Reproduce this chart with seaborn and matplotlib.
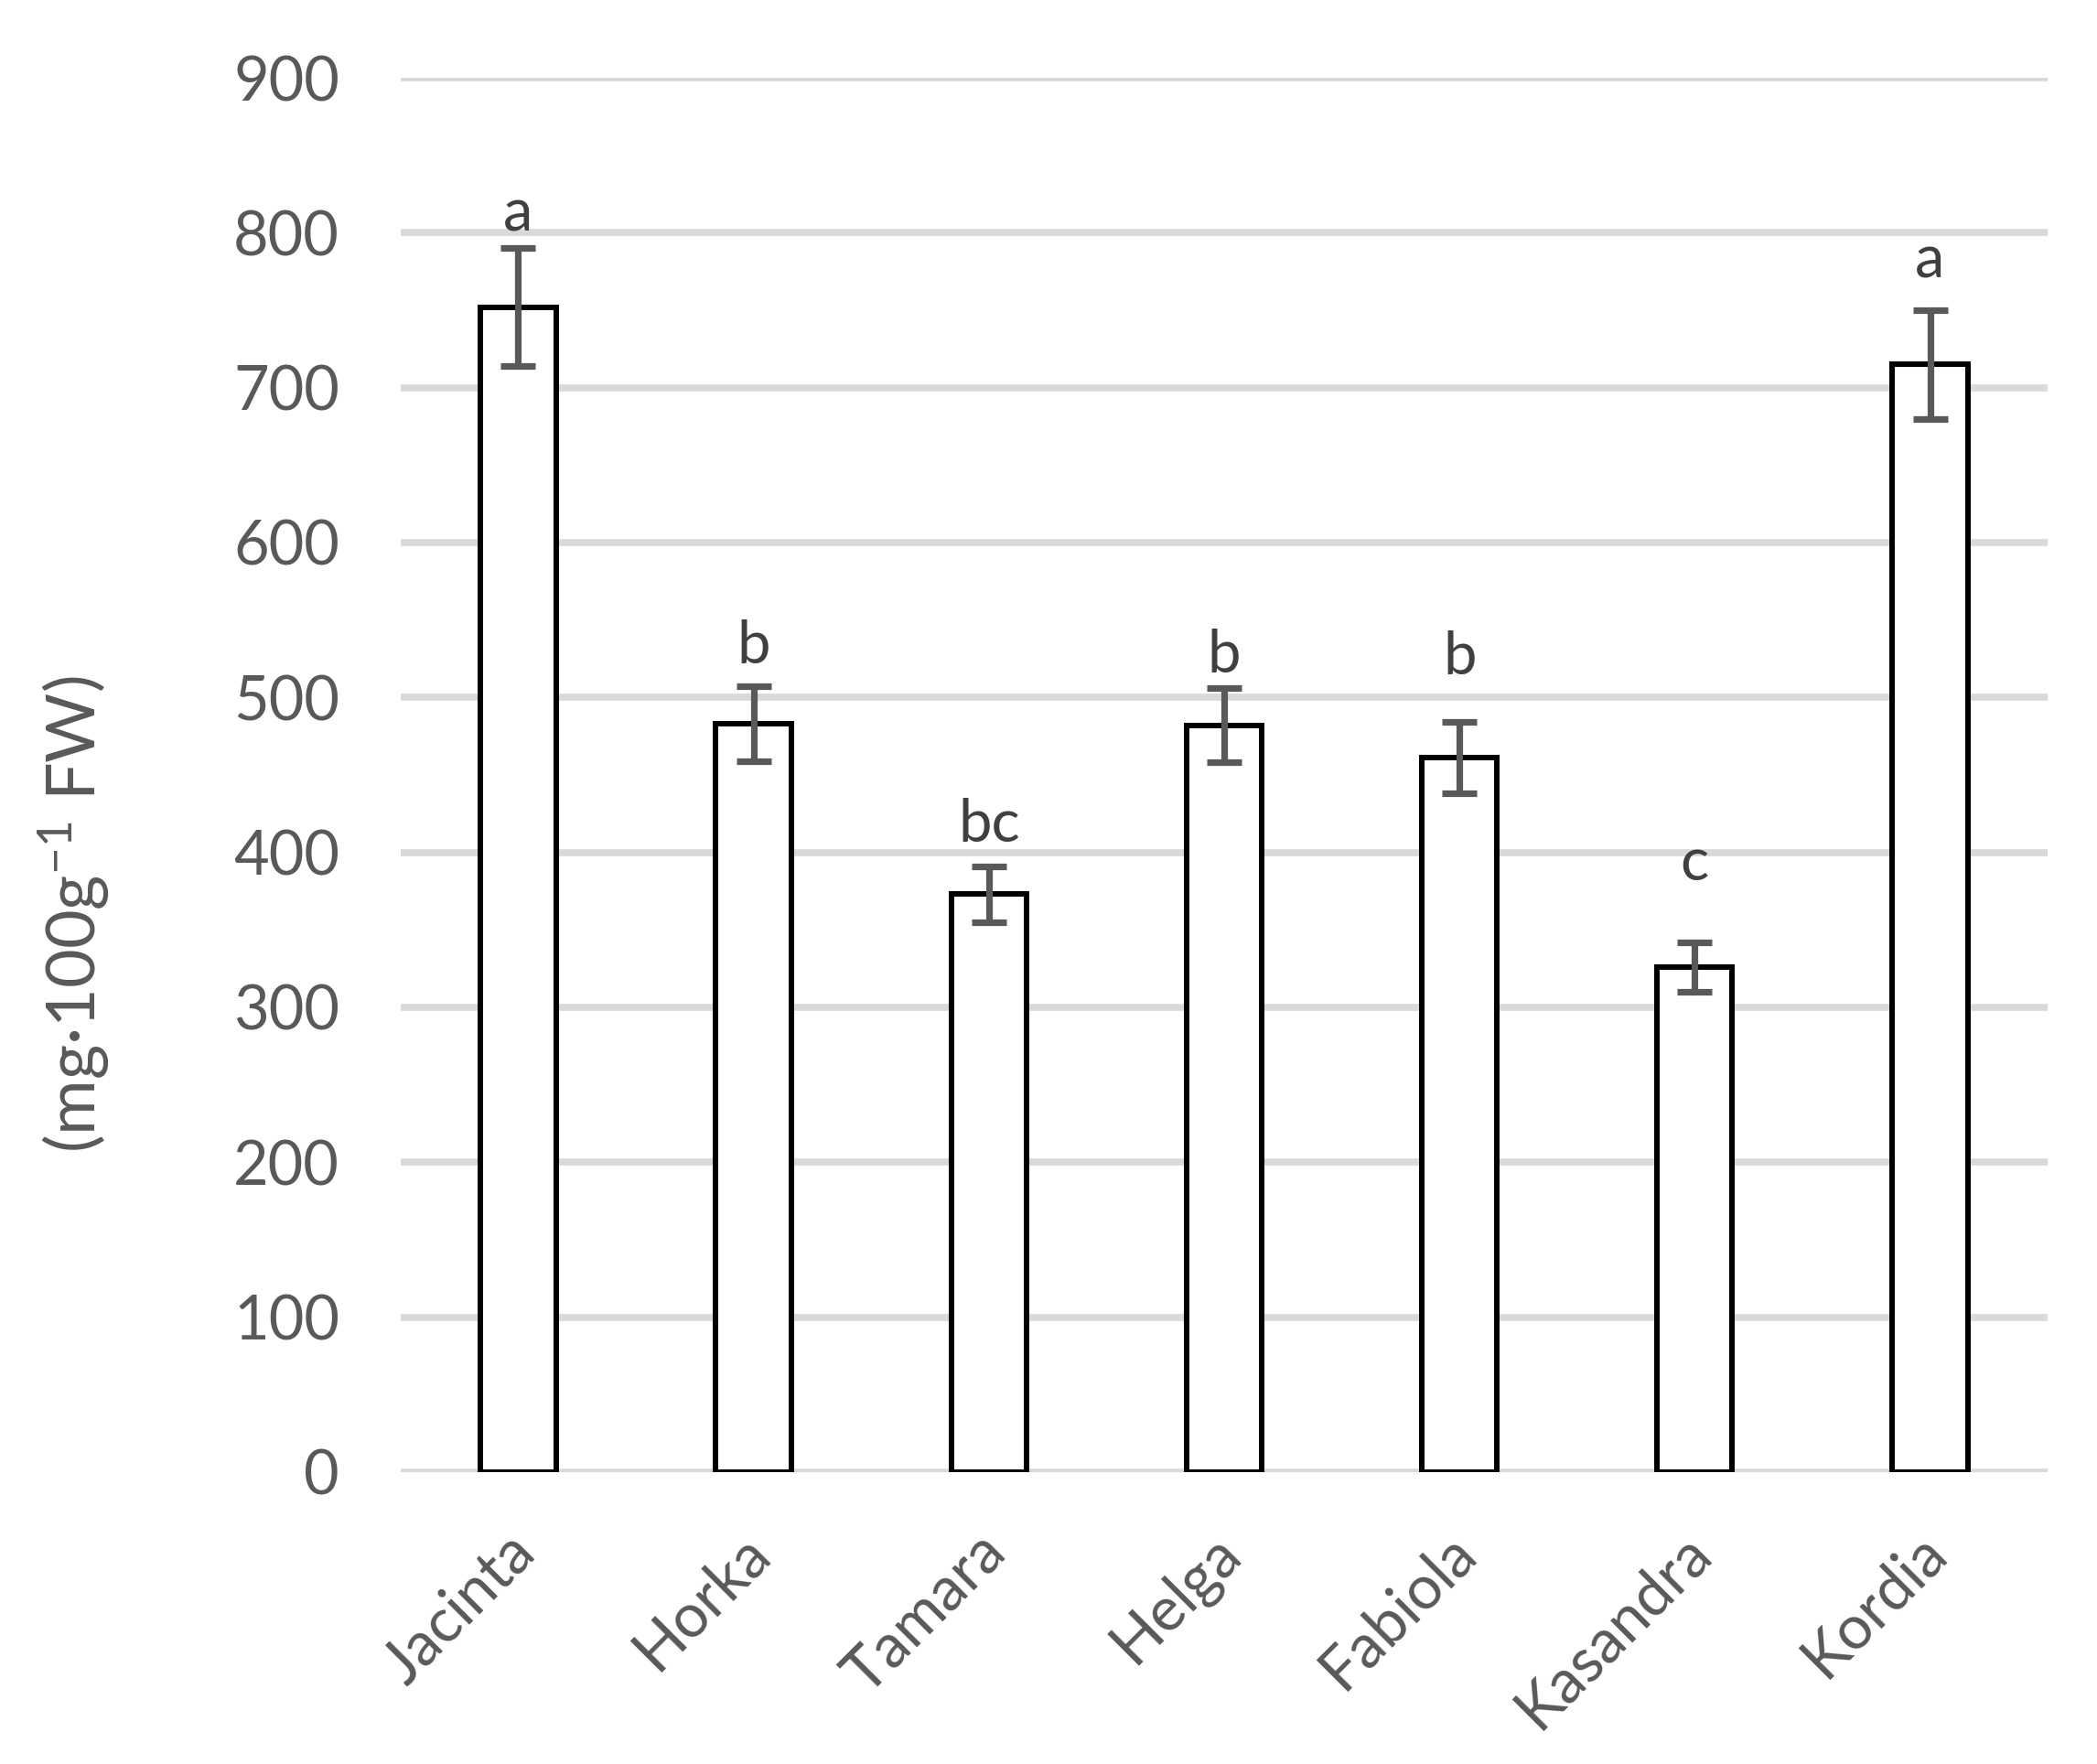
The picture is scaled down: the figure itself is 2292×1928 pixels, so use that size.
import matplotlib
matplotlib.use("Agg")
import matplotlib.pyplot as plt
import matplotlib.transforms as mtransforms
import seaborn as sns
import pandas as pd
import numpy as np

cultivars = ["Jacinta", "Horka", "Tamara", "Helga", "Fabiola", "Kasandra", "Kordia"]
means = [752, 483, 373, 482, 461, 326, 715]
errors = [38, 24, 18, 24, 23, 16, 35]
letters = ["a", "b", "bc", "b", "b", "c", "a"]
letter_y = [812, 533, 418, 527, 526, 393, 782]
yticks = [0, 100, 200, 300, 400, 500, 600, 700, 800, 900]

sns.set_theme(style="white")
plt.rcParams["font.family"] = ["Lato", "DejaVu Sans"]
plt.rcParams["mathtext.default"] = "regular"

df = pd.DataFrame({"cultivar": cultivars, "value": means})

fig = plt.figure(figsize=(22.92, 19.28), dpi=100)
ax = fig.add_axes([0.191, 0.1655, 0.7855, 0.7904])

sns.barplot(data=df, x="cultivar", y="value", ax=ax, color="white",
            edgecolor="black", linewidth=4.3, width=0.32, errorbar=None, zorder=3)

ax.errorbar(np.arange(len(cultivars)), means, yerr=errors, fmt="none",
            ecolor="#595959", elinewidth=5.2, capsize=14, capthick=5.2, zorder=4)

for i, (lab, yy) in enumerate(zip(letters, letter_y)):
    ax.text(i, yy, lab, ha="center", va="center", fontsize=47, color="#404040", zorder=5)

ax.set_xlim(-0.5, len(cultivars) - 0.5)
ax.set_ylim(0, 900)
ax.set_yticks(yticks)
ax.set_yticklabels([str(t) for t in yticks])
ax.yaxis.grid(True, color="#d9d9d9", linewidth=5.5, zorder=0)
ax.set_axisbelow(True)
for s in ax.spines.values():
    s.set_visible(False)
ax.tick_params(axis="both", length=0, labelsize=48, colors="#595959")
ax.tick_params(axis="y", pad=48)
ax.tick_params(axis="x", pad=30)
offset = mtransforms.ScaledTranslation(-14 / 100, -14 / 100, fig.dpi_scale_trans)
for lab in ax.get_xticklabels():
    lab.set_rotation(45)
    lab.set_ha("right")
    lab.set_rotation_mode("anchor")
    lab.set_transform(lab.get_transform() + offset)
ax.set_xlabel("")
ax.set_ylabel(r"(mg·100g$^{-1}$ FW)", fontsize=53, color="#595959")
ax.yaxis.set_label_coords(-0.175, 0.40)

fig.savefig("out.png", dpi=100, facecolor="white")
